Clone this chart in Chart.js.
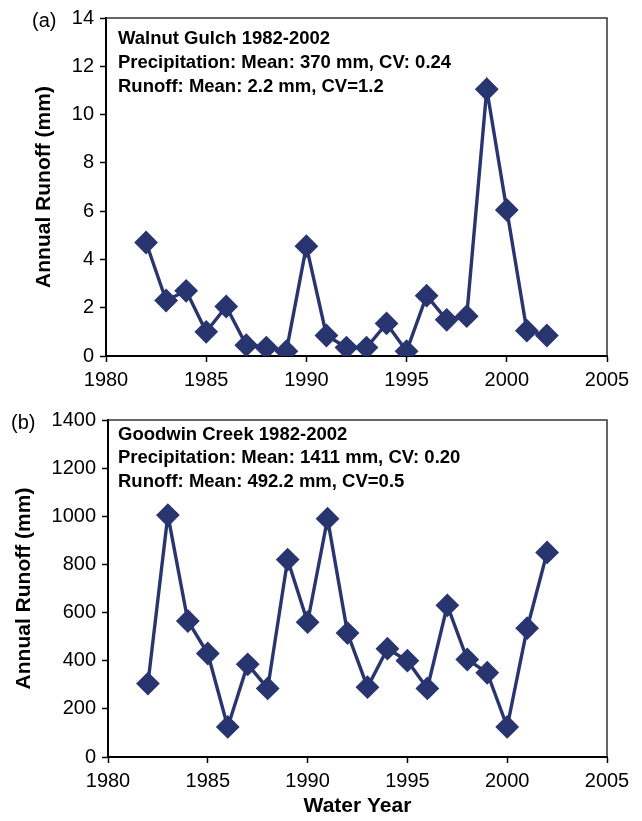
<!DOCTYPE html>
<html>
<head>
<meta charset="utf-8">
<script src="https://cdn.jsdelivr.net/npm/chart.js@4.4.1/dist/chart.umd.min.js"></script>
<style>
  body { margin: 0; background: #fff; }
  #wrap { position: relative; width: 642px; height: 821px; }
  canvas { position: absolute; left: 0; }
</style>
</head>
<body>
<div id="wrap">
  <canvas id="walnut" width="642" height="400" style="top:0"></canvas>
  <canvas id="goodwin" width="642" height="421" style="top:400px"></canvas>
</div>
<script>
// water years, shared by both panels
const years = [1982, 1983, 1984, 1985, 1986, 1987, 1988, 1989, 1990, 1991, 1992,
               1993, 1994, 1995, 1996, 1997, 1998, 1999, 2000, 2001, 2002];

// annual runoff (mm)
const walnutRunoff = [4.7, 2.3, 2.7, 1.0, 2.05, 0.45, 0.35, 0.2, 4.55, 0.85, 0.35,
                      0.35, 1.35, 0.2, 2.5, 1.5, 1.65, 11.05, 6.05, 1.05, 0.85];
const goodwinRunoff = [305, 1005, 565, 430, 125, 385, 285, 820, 560, 990, 515,
                       290, 450, 400, 285, 630, 405, 350, 125, 535, 850];

const walnutNotes = ['Walnut Gulch 1982-2002',
                     'Precipitation: Mean: 370 mm, CV: 0.24',
                     'Runoff: Mean: 2.2 mm, CV=1.2'];
const goodwinNotes = ['Goodwin Creek 1982-2002',
                      'Precipitation: Mean: 1411 mm, CV: 0.20',
                      'Runoff: Mean: 492.2 mm, CV=0.5'];

const navy = '#28356f';
const FONT = "'Liberation Sans', Arial, Helvetica, sans-serif";

// frame, panel letter and the text block in the upper left
const extras = {
  id: 'extras',
  afterDraw(chart, args, o) {
    const {ctx, chartArea: a} = chart;
    ctx.save();
    ctx.strokeStyle = '#333';
    ctx.lineWidth = 1.5;
    ctx.beginPath();
    ctx.moveTo(a.left, a.top); ctx.lineTo(a.right, a.top); ctx.lineTo(a.right, a.bottom);
    ctx.stroke();
    ctx.fillStyle = '#000';
    ctx.font = '20px ' + FONT;
    ctx.textBaseline = 'middle';
    ctx.fillText(o.letter, o.letterX, a.top + 3);
    ctx.font = 'bold 18.5px ' + FONT;
    ctx.textBaseline = 'alphabetic';
    o.notes.forEach((t, i) => ctx.fillText(t, 118, a.top + o.first + i * o.gap));
    ctx.restore();
  }
};

function makeChart(id, values, cfg) {
  const pts = years.map((y, i) => ({x: y, y: values[i]}));
  return new Chart(document.getElementById(id), {
    type: 'scatter',
    data: {
      datasets: [{
        data: pts,
        showLine: true,
        borderColor: navy,
        backgroundColor: navy,
        borderWidth: 3.4,
        pointStyle: 'rectRot',
        pointRadius: 9.5,
        pointHoverRadius: 9.5
      }]
    },
    options: {
      responsive: false,
      animation: false,
      layout: {padding: {left: 0, right: 35, top: cfg.top, bottom: 0}},
      plugins: {
        legend: {display: false},
        tooltip: {enabled: false},
        extras: {letter: cfg.letter, letterX: cfg.letterX, notes: cfg.notes,
                 first: cfg.first, gap: cfg.gap}
      },
      scales: {
        x: {
          type: 'linear',
          min: 1980, max: 2005,
          afterFit: s => { s.height = cfg.xh; },
          ticks: {stepSize: 5, color: '#000', padding: 6, font: {size: 20, family: FONT},
                  callback: v => String(v)},
          grid: {drawOnChartArea: false, tickLength: 6, tickColor: '#000', tickWidth: 1.5},
          border: {color: '#000', width: 2},
          title: {display: cfg.xTitle, text: 'Water Year', color: '#000', padding: {top: 0, bottom: 2},
                  font: {size: 21, weight: 'bold', family: FONT}}
        },
        y: {
          min: 0, max: cfg.max,
          afterFit: s => { s.width = cfg.left; },
          ticks: {stepSize: cfg.step, color: '#000', padding: 6, font: {size: 20, family: FONT},
                  callback: v => String(v)},
          grid: {drawOnChartArea: false, tickLength: 6, tickColor: '#000', tickWidth: 1.5},
          border: {color: '#000', width: 2},
          title: {display: true, text: 'Annual Runoff (mm)', color: '#000',
                  padding: {top: cfg.titlePad, bottom: 0},
                  font: {size: 21, weight: 'bold', family: FONT}}
        }
      }
    },
    plugins: [extras]
  });
}

makeChart('walnut', walnutRunoff, {
  max: 14, step: 2, left: 106, top: 17, xh: 44, titlePad: 32,
  letter: '(a)', letterX: 32, notes: walnutNotes, xTitle: false, first: 25.5, gap: 24.3
});
makeChart('goodwin', goodwinRunoff, {
  max: 1400, step: 200, left: 108, top: 20, xh: 64, titlePad: 11.5,
  letter: '(b)', letterX: 11, notes: goodwinNotes, xTitle: true, first: 20, gap: 23.3
});
</script>
</body>
</html>
